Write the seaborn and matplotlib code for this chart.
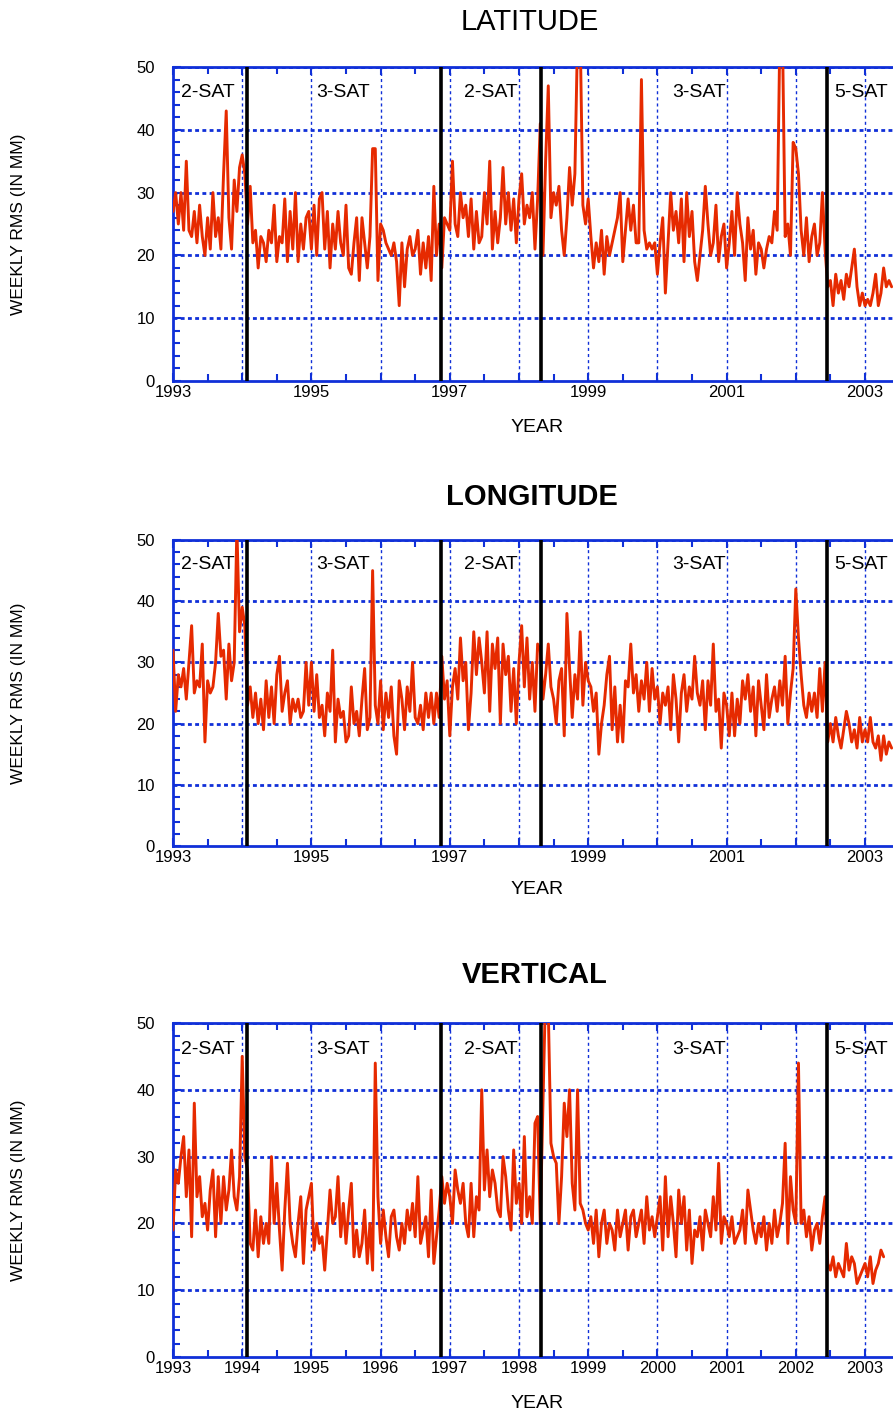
import numpy as np
import pandas as pd
import matplotlib
matplotlib.use("Agg")
import matplotlib.pyplot as plt
import seaborn as sns
from matplotlib.ticker import MultipleLocator

# ---------------- data (weekly RMS, read at ~2-week spacing) ----------------
START_YEAR = 1993.0
STEPS_PER_YEAR = 26

latitude = (
    [27, 30, 25, 30, 24, 35, 24, 23, 27, 22, 28, 23, 20, 26, 21, 30, 23, 26, 21, 33, 43, 26, 21, 32, 27, 34]  # 1993
    + [36, 33, 25, 31, 22, 24, 18, 23, 22, 19, 24, 22, 28, 19, 23, 22, 29, 19, 27, 21, 30, 19, 25, 21, 26, 27]  # 1994
    + [21, 28, 20, 29, 30, 21, 27, 18, 25, 21, 27, 22, 20, 28, 18, 17, 22, 26, 16, 26, 22, 18, 23, 37, 37, 16]  # 1995
    + [25, 24, 22, 21, 20, 22, 19, 12, 22, 15, 21, 23, 20, 21, 24, 17, 22, 18, 23, 16, 31, 20, 25, 18, 26, 25]  # 1996
    + [24, 35, 25, 23, 30, 26, 28, 23, 29, 21, 27, 22, 23, 30, 25, 35, 21, 27, 22, 26, 34, 25, 30, 24, 29, 22]  # 1997
    + [29, 33, 25, 28, 26, 30, 21, 29, 41, 20, 35, 47, 26, 30, 28, 31, 24, 20, 26, 34, 28, 33, 55, 55, 28, 25]  # 1998
    + [29, 23, 18, 22, 19, 24, 17, 23, 20, 22, 24, 26, 30, 19, 24, 29, 24, 28, 22, 22, 48, 24, 21, 22, 21, 22]  # 1999
    + [17, 22, 26, 14, 22, 30, 24, 27, 22, 29, 19, 30, 23, 27, 19, 16, 20, 24, 31, 25, 20, 22, 28, 19, 23, 25]  # 2000
    + [18, 22, 27, 20, 30, 25, 22, 16, 26, 21, 24, 17, 22, 21, 18, 21, 23, 22, 27, 24, 55, 55, 23, 25, 20, 38]  # 2001
    + [37, 33, 24, 20, 26, 19, 23, 25, 20, 22, 30, 21, 15, 16, 12, 17, 14, 16, 13, 17, 15, 18, 21, 15, 12, 14]  # 2002
    + [12, 13, 12, 14, 17, 12, 14, 18, 15, 16, 15]  # 2003
)

longitude = (
    [32, 22, 28, 26, 29, 24, 30, 36, 25, 27, 26, 33, 17, 27, 25, 26, 30, 38, 31, 32, 24, 33, 27, 30, 52, 35]  # 1993
    + [39, 36, 23, 26, 21, 25, 20, 24, 19, 27, 21, 26, 20, 28, 31, 22, 25, 27, 20, 24, 22, 24, 21, 22, 30, 23]  # 1994
    + [30, 22, 28, 21, 23, 18, 25, 22, 32, 17, 24, 21, 22, 17, 18, 26, 20, 22, 18, 24, 29, 19, 21, 45, 23, 20]  # 1995
    + [27, 19, 25, 21, 26, 18, 15, 27, 24, 19, 26, 22, 30, 21, 20, 23, 19, 25, 21, 25, 20, 25, 21, 31, 24, 27]  # 1996
    + [18, 26, 29, 24, 34, 27, 30, 19, 25, 35, 28, 34, 30, 25, 35, 22, 33, 29, 34, 20, 33, 28, 31, 22, 29, 20]  # 1997
    + [30, 36, 26, 34, 24, 30, 22, 33, 32, 24, 28, 33, 26, 24, 20, 27, 29, 18, 38, 29, 21, 28, 24, 35, 23, 30]  # 1998
    + [27, 26, 22, 25, 15, 20, 23, 28, 31, 19, 26, 17, 23, 17, 27, 26, 33, 25, 28, 22, 27, 24, 30, 22, 29, 24]  # 1999
    + [26, 20, 25, 23, 26, 19, 28, 24, 17, 25, 28, 22, 26, 24, 31, 25, 23, 27, 19, 27, 23, 33, 22, 24, 16, 25]  # 2000
    + [23, 18, 25, 18, 24, 20, 27, 24, 28, 22, 26, 18, 27, 23, 19, 28, 21, 24, 26, 22, 27, 23, 31, 20, 25, 29]  # 2001
    + [42, 34, 28, 23, 21, 25, 22, 25, 21, 29, 22, 30, 17, 20, 17, 21, 18, 16, 19, 22, 20, 17, 19, 16, 21, 17]  # 2002
    + [19, 17, 21, 17, 16, 18, 14, 18, 15, 17, 16]  # 2003
)

vertical = (
    [19, 28, 26, 30, 33, 24, 31, 18, 38, 24, 27, 21, 23, 19, 25, 28, 18, 27, 20, 27, 22, 25, 31, 24, 22, 27]  # 1993
    + [45, 30, 28, 17, 16, 22, 15, 21, 17, 20, 17, 30, 20, 26, 19, 13, 22, 29, 20, 17, 15, 20, 24, 14, 22, 24]  # 1994
    + [26, 16, 20, 17, 18, 13, 19, 25, 20, 21, 27, 18, 23, 17, 22, 26, 15, 19, 15, 17, 22, 14, 20, 13, 44, 24]  # 1995
    + [17, 22, 18, 15, 21, 22, 18, 16, 20, 17, 22, 19, 23, 18, 27, 17, 19, 21, 15, 25, 14, 18, 22, 27, 23, 26]  # 1996
    + [24, 20, 28, 25, 23, 26, 20, 18, 26, 18, 24, 22, 40, 25, 31, 24, 28, 26, 22, 21, 30, 27, 22, 19, 31, 23]  # 1997
    + [26, 20, 33, 21, 24, 20, 35, 36, 20, 38, 55, 52, 32, 30, 29, 20, 27, 38, 33, 40, 26, 22, 40, 23, 22, 20]  # 1998
    + [19, 21, 17, 22, 15, 20, 22, 17, 20, 19, 16, 22, 18, 20, 22, 16, 21, 22, 18, 20, 22, 17, 24, 19, 21, 18]  # 1999
    + [21, 24, 16, 27, 18, 24, 20, 15, 25, 20, 24, 16, 22, 14, 19, 18, 21, 16, 22, 20, 18, 24, 19, 29, 17, 21]  # 2000
    + [20, 18, 21, 17, 18, 19, 22, 17, 25, 22, 19, 17, 20, 18, 21, 16, 20, 17, 22, 18, 20, 23, 32, 17, 27, 22]  # 2001
    + [20, 44, 20, 22, 18, 21, 16, 19, 20, 17, 21, 24, 14, 13, 15, 12, 14, 13, 12, 17, 13, 15, 14, 11, 12, 13]  # 2002
    + [14, 12, 15, 11, 13, 14, 16, 15]  # 2003
)

panel_titles = ["LATITUDE", "LONGITUDE", "VERTICAL"]
title_bold = [False, True, True]
config_change_years = [1994.07, 1996.87, 1998.32, 2002.45]
constellation_labels = ["2-SAT", "3-SAT", "2-SAT", "3-SAT", "5-SAT"]
constellation_label_years = [1993.5, 1995.46, 1997.6, 2000.6, 2002.95]
year_ticks = list(range(1993, 2004))
y_ticks = [0, 10, 20, 30, 40, 50]

# ---------------- style ----------------
sns.set_style("white")
plt.rcParams["font.family"] = ["Liberation Sans", "DejaVu Sans"]
plt.rcParams["text.color"] = "black"
plt.rcParams["axes.labelcolor"] = "black"

BLUE = "#1030d8"
RED = "#e62a00"

fig = plt.figure(figsize=(8.93, 14.14), dpi=100)
W, H = 893.0, 1414.0
panel_px = [(67, 381), (540, 846), (1023, 1357)]  # (top, bottom) in pixels
left_px, right_px = 173, 893

series = [latitude, longitude, vertical]
title_px = [(530, 22), (532, 497), (535, 975)]
xlabel_px = [428, 889, 1403]

for i, vals in enumerate(series):
    top, bot = panel_px[i]
    ax = fig.add_axes([left_px / W, 1 - bot / H, (right_px - left_px) / W, (bot - top) / H])
    df = pd.DataFrame({
        "year": START_YEAR + np.arange(len(vals)) / STEPS_PER_YEAR,
        "rms": vals,
    })
    sns.lineplot(data=df, x="year", y="rms", ax=ax, color=RED, lw=2.1, zorder=3)

    for yr in config_change_years:
        ax.axvline(yr, color="black", lw=2.6, zorder=4)

    for lab, yr in zip(constellation_labels, constellation_label_years):
        ax.text(yr, 46.0, lab, ha="center", va="center", fontsize=14, color="black", zorder=5)

    ax.set_xlim(1993, 1993 + (right_px - left_px) / 69.2)
    ax.set_ylim(0, 50)

    ax.set_xticks(year_ticks)
    if i < 2:
        ax.set_xticklabels([str(y) if (y - 1993) % 2 == 0 else "" for y in year_ticks])
    else:
        ax.set_xticklabels([str(y) for y in year_ticks])
    ax.xaxis.set_minor_locator(MultipleLocator(0.5))
    ax.set_yticks(y_ticks)
    ax.yaxis.set_minor_locator(MultipleLocator(2))

    ax.grid(False)
    for yv in y_ticks[1:]:
        ax.axhline(yv, color=BLUE, lw=2.0, ls=(0, (1.4, 1.2)), zorder=1)
    for xv in year_ticks[1:]:
        ax.axvline(xv, color=BLUE, lw=1.0, ls=(0, (2.2, 2.2)), zorder=1)

    for side in ["left", "top", "bottom"]:
        ax.spines[side].set_color(BLUE)
        ax.spines[side].set_linewidth(2.0)
        ax.spines[side].set_visible(True)
    ax.spines["right"].set_visible(False)

    ax.tick_params(axis="both", which="both", direction="in", colors=BLUE,
                   labelcolor="black", labelsize=12, top=True, right=False,
                   left=True, bottom=True)
    ax.tick_params(axis="both", which="major", length=6, width=1.5)
    ax.tick_params(axis="both", which="minor", length=5, width=1.5)
    ax.tick_params(axis="y", which="major", pad=13)
    ax.tick_params(axis="x", which="major", pad=3)

    ax.set_xlabel("")
    ax.set_ylabel("")

    tx, ty = title_px[i]
    fig.text(tx / W, 1 - ty / H, panel_titles[i], ha="center", va="center",
             fontsize=21, fontweight="bold" if title_bold[i] else "normal", color="black")
    fig.text(537 / W, 1 - xlabel_px[i] / H, "YEAR", ha="center", va="center",
             fontsize=14, color="black")
    fig.text(19 / W, 1 - ((top + bot) / 2) / H, "WEEKLY RMS (IN MM)", ha="center",
             va="center", rotation=90, fontsize=12.5, color="black")

fig.savefig("out.png", dpi=100)
